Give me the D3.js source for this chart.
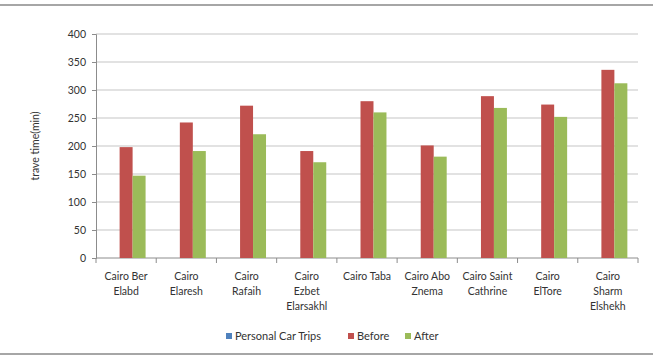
<!DOCTYPE html>
<html>
<head>
<meta charset="utf-8">
<script src="https://cdn.jsdelivr.net/npm/d3@7"></script>
<style>
  body { margin: 0; background: #fff; }
  text { font-family: Lato, "Open Sans", sans-serif; fill: #333; }
</style>
</head>
<body>
<div id="chart"></div>
<script>
// routes (x axis labels, split into lines as in the picture)
var routes = [
    ["Cairo Ber", "Elabd"],
    ["Cairo", "Elaresh"],
    ["Cairo", "Rafaih"],
    ["Cairo", "Ezbet", "Elarsakhl"],
    ["Cairo Taba"],
    ["Cairo Abo", "Znema"],
    ["Cairo Saint", "Cathrine"],
    ["Cairo", "ElTore"],
    ["Cairo", "Sharm", "Elshekh"]
];
var seriesNames = ["Personal Car Trips", "Before", "After"];
var personalTrips = [null, null, null, null, null, null, null, null, null];
var before = [198, 242, 272, 191, 280, 201, 289, 274, 336];
var after = [147, 191, 221, 171, 260, 181, 268, 252, 312];
var yTicks = [0, 50, 100, 150, 200, 250, 300, 350, 400];

var colors = ["#4F81BD", "#C0504D", "#9BBB59"];

var width = 653, height = 356;
var margin = {left: 96, right: 15, top: 34, bottom: 98};

var svg = d3.select("#chart")
    .append("svg")
    .attr("width", width)
    .attr("height", height);

// frame lines top and bottom
svg.append("line").attr("x1", 0).attr("x2", width).attr("y1", 5).attr("y2", 5)
    .attr("stroke", "#a6a6a6").attr("stroke-width", 2);
svg.append("line").attr("x1", 0).attr("x2", width).attr("y1", 354).attr("y2", 354)
    .attr("stroke", "#a6a6a6").attr("stroke-width", 2);

var x = d3.scaleBand()
    .domain(d3.range(routes.length))
    .range([margin.left, width - margin.right])
    .paddingInner(0)
    .paddingOuter(0);

var xInner = d3.scaleBand()
    .domain(d3.range(seriesNames.length))
    .range([0, x.bandwidth()])
    .paddingOuter(0.82)
    .paddingInner(0);

var y = d3.scaleLinear()
    .domain([0, 400])
    .range([height - margin.bottom, margin.top]);

// gridlines
svg.append("g")
    .selectAll("line")
    .data(yTicks.slice(1))
    .enter()
    .append("line")
        .attr("x1", margin.left)
        .attr("x2", width - margin.right)
        .attr("y1", function (d) { return y(d); })
        .attr("y2", function (d) { return y(d); })
        .attr("stroke", "#d9d9d9")
        .attr("stroke-width", 1.5);

// y axis
var yAxis = svg.append("g")
    .attr("transform", "translate(" + margin.left + ",0)")
    .call(d3.axisLeft(y).tickValues(yTicks).tickSize(4).tickPadding(6));
yAxis.select(".domain").attr("stroke", "#8c8c8c");
yAxis.selectAll(".tick line").attr("stroke", "#8c8c8c");
yAxis.selectAll("text").style("font-size", "10.5px").attr("fill", "#333");

// x axis, ticks on category boundaries
var xAxisG = svg.append("g")
    .attr("transform", "translate(0," + y(0) + ")");
xAxisG.append("line")
    .attr("x1", margin.left).attr("x2", width - margin.right)
    .attr("stroke", "#8c8c8c");
xAxisG.selectAll(".bt")
    .data(d3.range(routes.length + 1))
    .enter()
    .append("line")
        .attr("class", "bt")
        .attr("x1", function (d) { return d < routes.length ? x(d) : x(d - 1) + x.bandwidth(); })
        .attr("x2", function (d) { return d < routes.length ? x(d) : x(d - 1) + x.bandwidth(); })
        .attr("y1", 0).attr("y2", 5)
        .attr("stroke", "#8c8c8c");

var labels = xAxisG.selectAll(".lbl")
    .data(routes)
    .enter()
    .append("text")
        .attr("class", "lbl")
        .attr("text-anchor", "middle")
        .attr("transform", function (d, i) {
            return "translate(" + (x(i) + x.bandwidth() / 2) + ",22)";
        })
        .style("font-size", "10.5px");
labels.selectAll("tspan")
    .data(function (d) { return d; })
    .enter()
    .append("tspan")
        .attr("x", 0)
        .attr("dy", function (d, i) { return i === 0 ? 0 : 15; })
        .text(function (d) { return d; });

// bars, one group per series (the first one has no values)
var allSeries = [personalTrips, before, after];
allSeries.forEach(function (values, s) {
    svg.append("g")
        .selectAll("rect")
        .data(values.map(function (v, i) { return {i: i, v: v}; })
                    .filter(function (d) { return d.v !== null; }))
        .enter()
        .append("rect")
            .attr("fill", colors[s])
            .attr("x", function (d) { return x(d.i) + xInner(s); })
            .attr("width", xInner.bandwidth())
            .attr("y", function (d) { return y(d.v); })
            .attr("height", function (d) { return y(0) - y(d.v); });
});

// y axis title
svg.append("text")
    .attr("transform", "translate(39," + ((margin.top + y(0)) / 2) + ") rotate(-90)")
    .attr("text-anchor", "middle")
    .style("font-size", "10.5px")
    .text("trave  time(min)");

// legend
var legendX = [226, 348, 405];
var legend = svg.append("g")
    .selectAll("g")
    .data(seriesNames)
    .enter()
    .append("g")
        .attr("transform", function (d, i) { return "translate(" + legendX[i] + ",336)"; });
legend.append("rect")
    .attr("x", 0).attr("y", -3)
    .attr("width", 6).attr("height", 6)
    .attr("fill", function (d, i) { return colors[i]; });
legend.append("text")
    .attr("x", 9).attr("dy", "0.35em")
    .style("font-size", "11px")
    .text(function (d) { return d; });
</script>
</body>
</html>
